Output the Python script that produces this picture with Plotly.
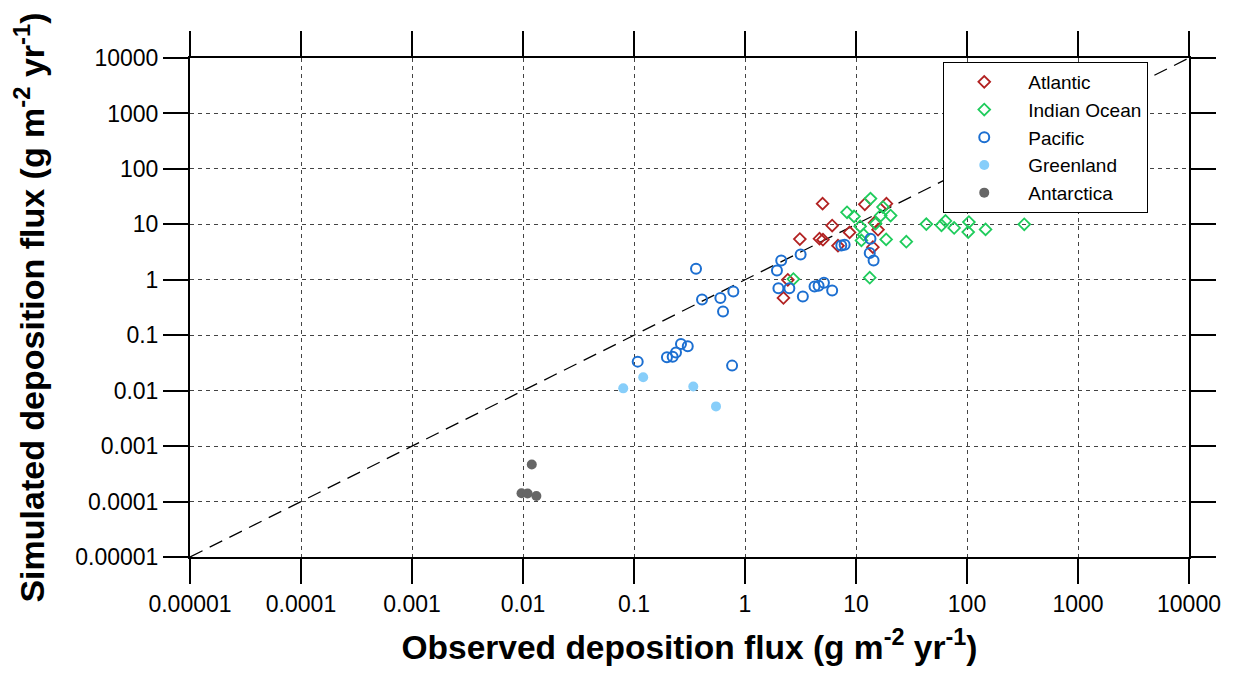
import plotly.graph_objects as go

# observed (x) vs simulated (y) deposition flux, g m-2 yr-1
atlantic_x = [5.0, 12.0, 18.8, 6.1, 8.75, 3.12, 4.69, 5.04, 6.88, 14.7, 15.8, 14.2, 2.43, 2.22]
atlantic_y = [23.6, 23.0, 23.6, 9.5, 7.16, 5.42, 5.5, 5.28, 4.11, 10.7, 8.0, 3.88, 1.0, 0.47]

indian_x = [13.5, 17.5, 20.5, 8.3, 9.6, 16.7, 15.0, 10.9, 11.7, 11.2, 18.7, 2.73, 13.3,
            43, 58.9, 64, 76.6, 104, 102.5, 147, 328, 28.4]
indian_y = [29.1, 20.5, 14.4, 16.5, 13.9, 14.4, 10.3, 9.2, 6.5, 5.13, 5.35, 1.03, 1.09,
            10.1, 9.6, 11.5, 8.6, 11.0, 7.25, 8.1, 10.0, 4.86]

pacific_x = [0.362, 0.41, 0.60, 0.785, 0.634, 2.12, 1.94, 3.17, 2.0, 2.51, 3.32, 4.23, 4.6,
             5.14, 6.1, 7.37, 7.9, 13.5, 13.3, 14.4, 0.108, 0.198, 0.223, 0.239, 0.265,
             0.305, 0.765]
pacific_y = [1.58, 0.44, 0.47, 0.615, 0.267, 2.23, 1.47, 2.87, 0.705, 0.705, 0.50, 0.757, 0.78,
             0.88, 0.64, 4.17, 4.29, 5.5, 3.03, 2.23, 0.0334, 0.040, 0.041, 0.049, 0.0697,
             0.063, 0.0283]

greenland_x = [0.121, 0.080, 0.342, 0.548]
greenland_y = [0.0174, 0.011, 0.0119, 0.0052]

antarctica_x = [0.012, 0.0097, 0.011, 0.0132]
antarctica_y = [4.65e-4, 1.41e-4, 1.4e-4, 1.26e-4]

one_to_one = [1e-5, 1e4]

tick_vals = [1e-5, 1e-4, 1e-3, 1e-2, 0.1, 1, 10, 100, 1000, 10000]
tick_text = ['0.00001', '0.0001', '0.001', '0.01', '0.1', '1', '10', '100', '1000', '10000']

FONT = 'Liberation Sans, Arial, sans-serif'

fig = go.Figure()

fig.add_trace(go.Scatter(
    x=one_to_one, y=one_to_one, mode='lines', showlegend=False,
    line=dict(color='black', width=1.3, dash='14px,8px'),
    hoverinfo='skip'
))

groups = [
    ('Atlantic', atlantic_x, atlantic_y,
     dict(symbol='diamond-open', size=9, color='#b22222', line=dict(width=1.8))),
    ('Indian Ocean', indian_x, indian_y,
     dict(symbol='diamond-open', size=9, color='#1fcc5c', line=dict(width=1.8))),
    ('Pacific', pacific_x, pacific_y,
     dict(symbol='circle-open', size=10, color='#1c6fd1', line=dict(width=2))),
    ('Greenland', greenland_x, greenland_y,
     dict(symbol='circle', size=10, color='#87cefa')),
    ('Antarctica', antarctica_x, antarctica_y,
     dict(symbol='circle', size=10, color='#666666')),
]
for name, xs, ys, marker in groups:
    fig.add_trace(go.Scatter(x=xs, y=ys, mode='markers', name=name, marker=marker))

axis_common = dict(
    type='log', range=[-5, 4], tickmode='array', tickvals=tick_vals,
    ticklen=25, tickwidth=1.5, tickcolor='black',
    zeroline=False,
)

fig.update_layout(
    # page body has an 8px margin, so the figure is sized to end at the window edge
    width=1226, height=665,
    margin=dict(l=182, r=45, t=50, b=116),
    paper_bgcolor='white', plot_bgcolor='white',
    font=dict(family=FONT, color='black'),
    xaxis=dict(
        **axis_common, ticktext=tick_text, ticks='outside', mirror='ticks',
        showline=True, linewidth=2, linecolor='black',
        showgrid=True, gridcolor='#444444', gridwidth=1, griddash='4px,4px',
        tickfont=dict(size=23),
        title=dict(text='<b>Observed deposition flux (g m<sup>-2</sup> yr<sup>-1</sup>)</b>',
                   font=dict(size=33.5), standoff=20),
    ),
    yaxis=dict(
        **axis_common, ticktext=tick_text, ticks='outside', mirror='ticks',
        showline=True, linewidth=2, linecolor='black',
        showgrid=True, gridcolor='#444444', gridwidth=1, griddash='4px,4px',
        tickfont=dict(size=23),
        title=dict(text='<b>Simulated deposition flux (g m<sup>-2</sup> yr<sup>-1</sup>)</b>',
                   font=dict(size=34), standoff=20),
    ),
    # inner halves of the crossing tick marks
    xaxis2=dict(**axis_common, overlaying='x', side='bottom', ticks='inside', mirror='ticks',
                showticklabels=False, showgrid=False, showline=False),
    yaxis2=dict(**axis_common, overlaying='y', side='left', ticks='inside', mirror='ticks',
                showticklabels=False, showgrid=False, showline=False),
    legend=dict(
        x=0.754, y=0.992, xanchor='left', yanchor='top',
        bgcolor='white', bordercolor='black', borderwidth=1,
        font=dict(size=19), indentation=-4, itemwidth=78,
    ),
)

fig.write_html('out.html')
